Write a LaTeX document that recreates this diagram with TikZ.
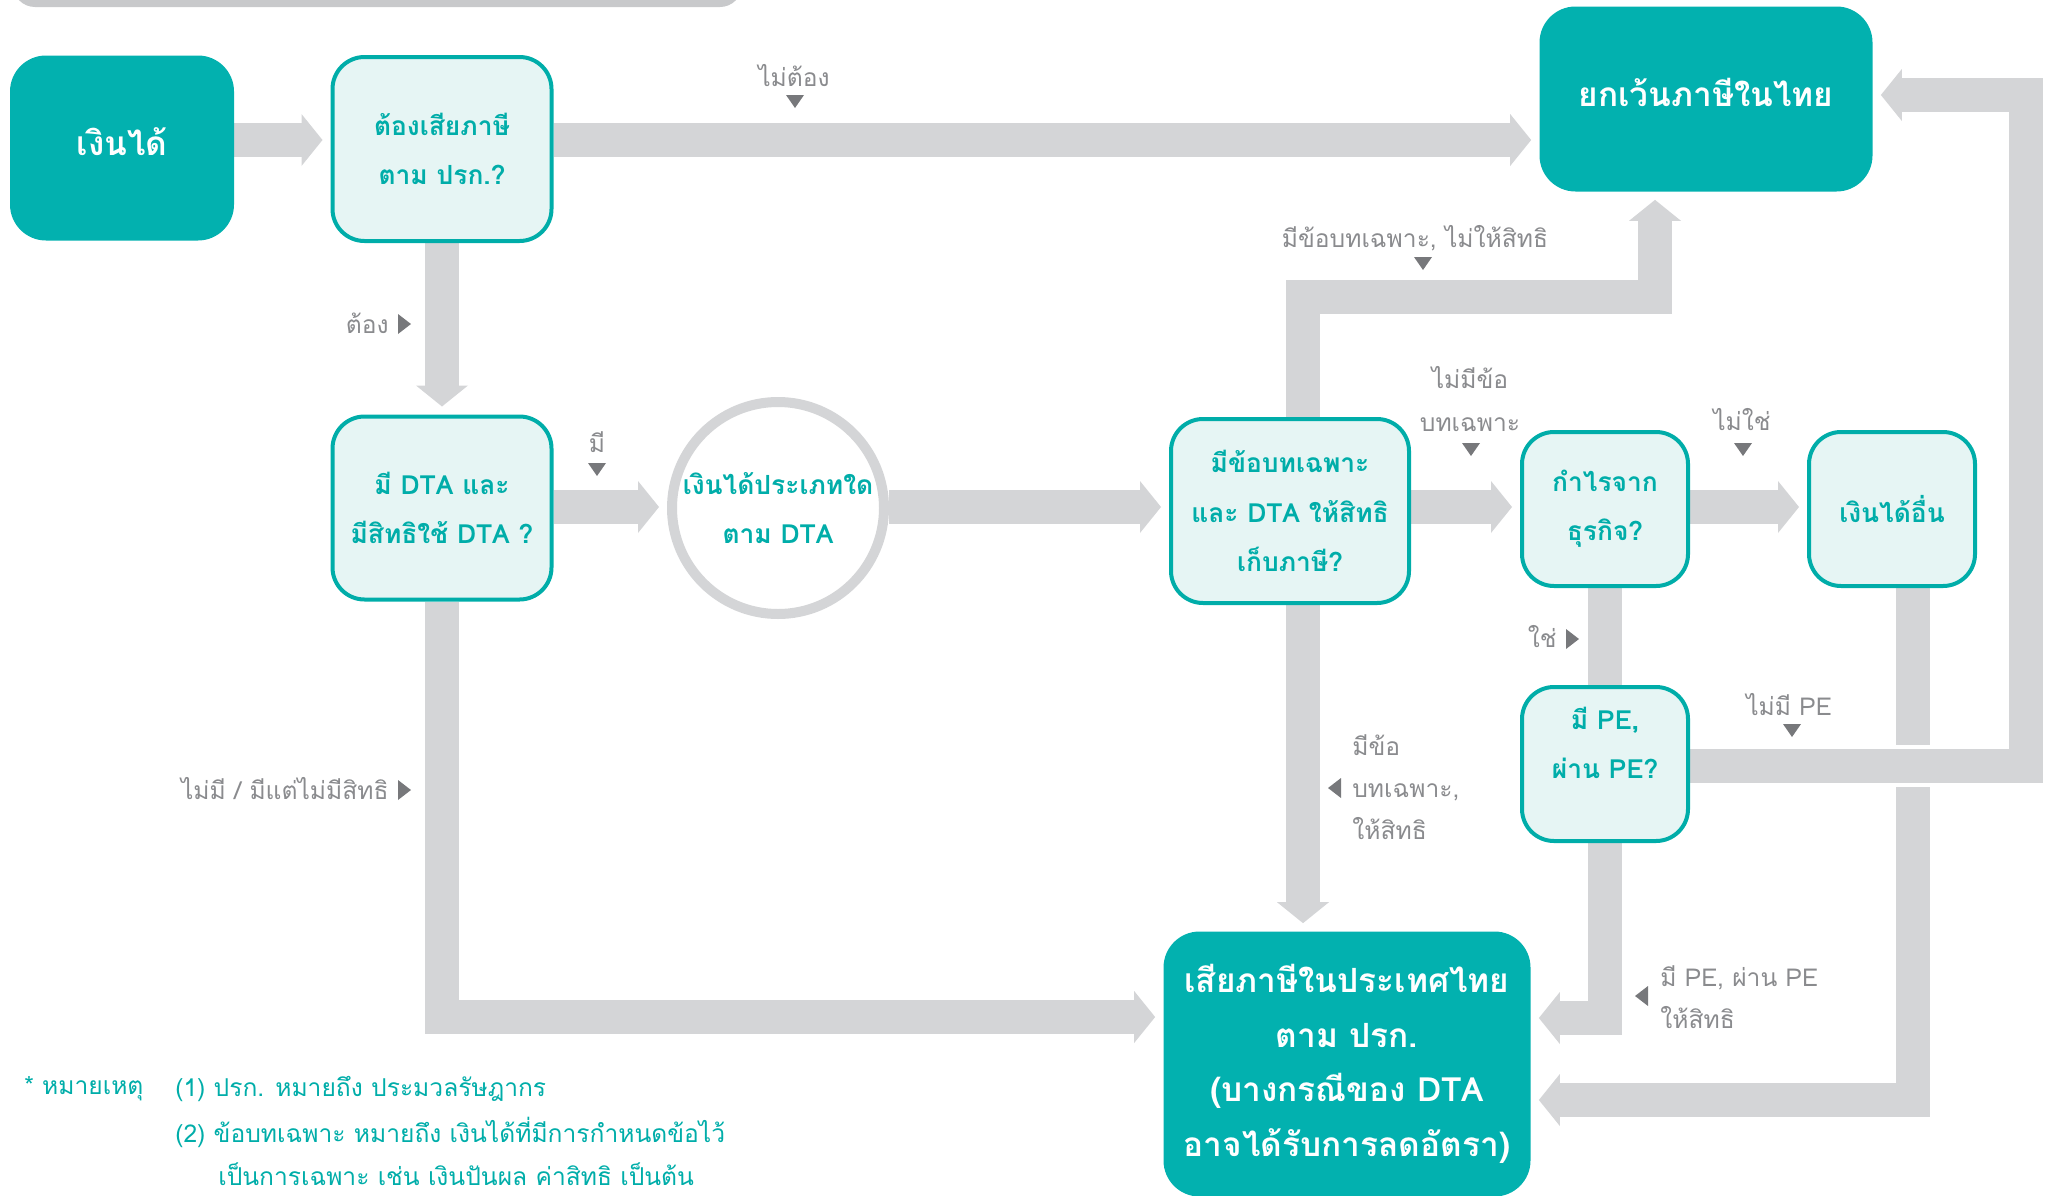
\documentclass[tikz,border=0pt]{standalone}
\usepackage{fontspec}
\newfontfamily\thaifont[Script=Thai]{Loma}
\usetikzlibrary{math,arrows.meta,backgrounds}

\definecolor{tealdark}{HTML}{02B1AF}
\definecolor{teallight}{HTML}{E6F5F4}
\definecolor{tealline}{HTML}{00ADA9}
\definecolor{bandgray}{HTML}{D4D5D7}
\definecolor{bargray}{HTML}{C8C9CB}
\definecolor{labelgray}{HTML}{8A8B8E}
\definecolor{markgray}{HTML}{77787B}

\newlength{\px}
\setlength{\px}{0.2mm}

\tikzset{
    result/.style = {fill=tealdark, rounded corners=36\px, inner sep=0pt,
        text=white, align=center,
        font=\thaifont\bfseries\fontsize{19}{31}\selectfont},
    question/.style = {fill=teallight, draw=tealline, line width=4\px,
        rounded corners=32\px, inner sep=0pt, text=tealline, align=center,
        font=\thaifont\bfseries\fontsize{15}{28}\selectfont},
    kind/.style = {circle, fill=white, draw=bandgray, line width=10\px,
        inner sep=0pt, text=tealline, align=center,
        font=\thaifont\bfseries\fontsize{15}{28}\selectfont},
    band/.style = {draw=bandgray, line width=6.8mm},
    flow/.style = {band, shorten >=1.6mm,
        -{Triangle[width=10.4mm, length=4.2mm, line width=0pt]}},
    tag/.style = {text=labelgray, inner sep=0pt, align=left,
        font=\thaifont\fontsize{14}{24}\selectfont},
    note/.style = {text=tealline, inner sep=0pt, anchor=west,
        font=\thaifont\fontsize{14}{24}\selectfont},
}

\begin{document}
\begin{tikzpicture}[x=0.2mm, y=-0.2mm]
    \tikzmath{
        \xval = 2058;
        \yval = 1195;
        \yTop = 140;
        \yMid = 507;
        \yNoPE = 766;
        \yLoop = 95;
        \xLoop = 2026;
    }

\useasboundingbox (0,0) rectangle (\xval,\yval);
\clip (0,0) rectangle (\xval,\yval);

% barra superior
\fill[bargray, rounded corners=22\px] (13,-60) rectangle (742,7);

% Cajas
\node[result, minimum width=224\px, minimum height=185\px] (inc) at (122,148) {เงินได้\\[-24pt]\mbox{}};
\node[question, minimum width=219\px, minimum height=184\px] (q1) at (442,149) {ต้องเสียภาษี\\ตาม ปรก.?};
\node[result, minimum width=333\px, minimum height=185\px] (exempt) at (1706,99) {ยกเว้นภาษีในไทย\\[-24pt]\mbox{}};
\node[question, minimum width=219\px, minimum height=183\px] (q2) at (442,508) {มี DTA และ\\มีสิทธิใช้ DTA ?};
\node[kind, minimum size=212\px] (dta) at (778,508) {เงินได้ประเภทใด\\ตาม DTA};
\node[question, minimum width=238\px, minimum height=184\px] (q3) at (1290,511) {มีข้อบทเฉพาะ\\และ DTA ให้สิทธิ\\เก็บภาษี?};
\node[question, minimum width=166\px, minimum height=154\px] (q4) at (1605,509) {กำไรจาก\\ธุรกิจ?};
\node[question, minimum width=166\px, minimum height=154\px] (other) at (1892,509) {เงินได้อื่น};
\node[question, minimum width=166\px, minimum height=154\px] (q5) at (1605,764) {มี PE,\\ผ่าน PE?\\[-4pt]\mbox{}};
\node[result, minimum width=367\px, minimum height=265\px] (tax) at (1347,1064) {เสียภาษีในประเทศไทย\\ตาม ปรก.\\(บางกรณีของ DTA\\อาจได้รับการลดอัตรา)};

% Flechas
\begin{scope}[on background layer]
\draw[flow] (inc.east |- 0,\yTop) -- (q1.west |- 0,\yTop);
\draw[flow] (q1.east |- 0,\yTop) -- (exempt.west |- 0,\yTop);
\draw[flow] (q1.south) -- (q2.north);
\draw[flow] (q2.east |- 0,\yMid) -- (dta.west |- 0,\yMid);
\draw[flow] (dta.east |- 0,\yMid) -- (q3.west |- 0,\yMid);
\coordinate (up) at (1655,297);
\draw[flow] ([xshift=13\px]q3.north) |- (up) -- (up |- exempt.south);
\draw[flow] (q3.east |- 0,\yMid) -- (q4.west |- 0,\yMid);
\draw[flow] (q4.east |- 0,\yMid) -- (other.west |- 0,\yMid);
\draw[band] (q4.south) -- (q5.north);
\draw[flow] ([xshift=13\px]q3.south) -- (1303,0 |- tax.north);
\draw[flow] (q2.south) |- (tax.west |- 0,1017);
\draw[flow] (q5.south) |- (tax.east |- 0,1018);
\draw[flow] ([xshift=21\px]other.south) |- (tax.east |- 0,1100);
% puente
\draw[white, line width=8.4mm] (1870,\yNoPE) -- (1960,\yNoPE);
\draw[flow] (q5.east |- 0,\yNoPE) -| (\xLoop,\yLoop) -- (exempt.east |- 0,\yLoop);
\end{scope}

% Etiquetas
\node[tag] (lnot) at (794,76) {ไม่ต้อง};
\node[tag, anchor=east] (lmust) at (389,323) {ต้อง};
\node[tag] (lhas) at (597,442) {มี};
\node[tag] (lnoright) at (1415,238) {มีข้อบทเฉพาะ, ไม่ให้สิทธิ};
\node[tag, align=center] (lnoclause) at (1470,399) {ไม่มีข้อ\\บทเฉพาะ};
\node[tag] (lnotbiz) at (1742,420) {ไม่ใช่};
\node[tag, anchor=east] (lbiz) at (1557,637) {ใช่};
\node[tag] (lnope) at (1789,705) {ไม่มี PE};
\node[tag, anchor=west] (lright) at (1352,787) {มีข้อ\\บทเฉพาะ,\\ให้สิทธิ};
\node[tag, anchor=west] (lpe) at (1660,997) {มี PE, ผ่าน PE\\ให้สิทธิ};
\node[tag, anchor=east] (lnodta) at (389,789) {ไม่มี / มีแต่ไม่มีสิทธิ};

% Marcas
\foreach \x/\y in {795/101, 597/469, 1423/263, 1471/449, 1743/449, 1792/730}
    \fill[markgray] (\x-9,\y-6) -- (\x+9,\y-6) -- (\x,\y+7) -- cycle;
\foreach \x/\y in {404/324, 404/790, 1572/639}
    \fill[markgray] (\x-6,\y-10) -- (\x-6,\y+10) -- (\x+7,\y) -- cycle;
\foreach \x/\y in {1335/788, 1642/996}
    \fill[markgray] (\x+6,\y-10) -- (\x+6,\y+10) -- (\x-7,\y) -- cycle;

% Nota
\node[note] (note) at (24,1089) {* หมายเหตุ};
\node[note] (note1) at (175,1089) {(1) ปรก. หมายถึง ประมวลรัษฎากร};
\node[note] (note2) at (175,1132) {(2) ข้อบทเฉพาะ หมายถึง เงินได้ที่มีการกำหนดข้อไว้};
\node[note] (note3) at (218,1174) {เป็นการเฉพาะ เช่น เงินปันผล ค่าสิทธิ เป็นต้น};

\end{tikzpicture}
\end{document}
